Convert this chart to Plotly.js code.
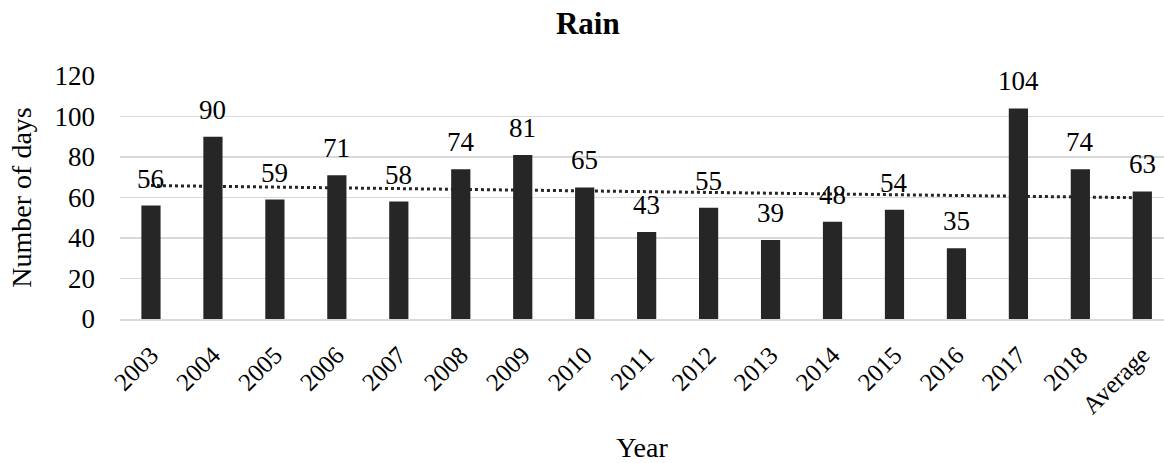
<!DOCTYPE html>
<html>
<head>
<meta charset="utf-8">
<script src="https://cdn.plot.ly/plotly-3.0.1.min.js"></script>
<style>
  html, body { margin: 0; padding: 0; background: #ffffff; }
  #chart { width: 1164px; height: 463px; }
</style>
</head>
<body>
<div id="chart"></div>
<script>
// Days of rain per year, plus the overall average
const categories = ['2003', '2004', '2005', '2006', '2007', '2008', '2009', '2010',
                    '2011', '2012', '2013', '2014', '2015', '2016', '2017', '2018', 'Average'];
const rainDays = [56, 90, 59, 71, 58, 74, 81, 65, 43, 55, 39, 48, 54, 35, 104, 74, 63];
const yTicks = [0, 20, 40, 60, 80, 100, 120];

// Linear least-squares trend across the category positions
function linearTrend(values) {
  const n = values.length;
  const xs = values.map((_, i) => i + 1);
  const mx = xs.reduce((a, b) => a + b, 0) / n;
  const my = values.reduce((a, b) => a + b, 0) / n;
  let sxy = 0, sxx = 0;
  for (let i = 0; i < n; i++) {
    sxy += (xs[i] - mx) * (values[i] - my);
    sxx += (xs[i] - mx) * (xs[i] - mx);
  }
  const slope = sxy / sxx;
  return xs.map(x => my + slope * (x - mx));
}
const trend = linearTrend(rainDays);

const serif = 'Liberation Serif, Times New Roman, serif';
const barColor = '#262626';

const bars = {
  type: 'bar',
  x: categories,
  y: rainDays,
  marker: { color: barColor, line: { width: 0 } },
  hoverinfo: 'x+y',
  showlegend: false
};

const trendLine = {
  type: 'scatter',
  mode: 'lines',
  x: categories,
  y: trend,
  line: { color: barColor, width: 3, dash: 'dot' },
  hoverinfo: 'skip',
  showlegend: false
};

// Value labels sit above each bar (x given as the category index)
const valueLabels = categories.map((c, i) => ({
  x: i,
  y: rainDays[i],
  xref: 'x',
  yref: 'y',
  text: String(rainDays[i]),
  showarrow: false,
  yanchor: 'bottom',
  yshift: 10,
  font: { family: serif, size: 27, color: '#000000' }
}));

const layout = {
  width: 1164,
  height: 463,
  margin: { l: 120, r: 0, t: 76, b: 144 },
  paper_bgcolor: '#ffffff',
  plot_bgcolor: '#ffffff',
  bargap: 0.69,
  font: { family: serif, color: '#000000' },
  title: {
    text: '<b>Rain</b>',
    x: 0.505,
    xref: 'container',
    xanchor: 'center',
    y: 1,
    yref: 'container',
    yanchor: 'top',
    pad: { t: 12 },
    font: { family: serif, size: 31, color: '#000000' }
  },
  xaxis: {
    type: 'category',
    range: [-0.5, 16.35],
    tickangle: -45,
    tickfont: { family: serif, size: 25, color: '#000000' },
    ticks: '',
    ticklabelstandoff: 10,
    showgrid: false,
    showline: true,
    linecolor: '#d9d9d9',
    linewidth: 1.5,
    zeroline: false,
    automargin: false,
    title: {
      text: 'Year',
      standoff: 25,
      font: { family: serif, size: 28, color: '#000000' }
    }
  },
  yaxis: {
    range: [0, 120],
    tickvals: yTicks,
    ticktext: yTicks.map(String),
    tickfont: { family: serif, size: 27, color: '#000000' },
    ticks: '',
    ticklabelstandoff: 24,
    showgrid: true,
    gridcolor: '#d9d9d9',
    gridwidth: 1.5,
    zeroline: false,
    showline: false,
    automargin: false,
    title: {
      text: 'Number of days',
      standoff: 14,
      font: { family: serif, size: 28, color: '#000000' }
    }
  },
  annotations: valueLabels
};

Plotly.newPlot('chart', [bars, trendLine], layout, { displayModeBar: false, staticPlot: true });
</script>
</body>
</html>
